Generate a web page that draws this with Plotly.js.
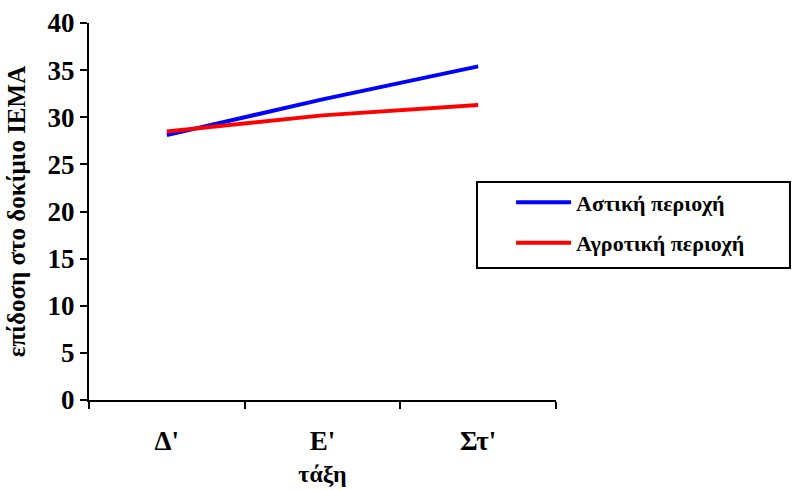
<!DOCTYPE html>
<html>
<head>
<meta charset="utf-8">
<script src="https://cdn.plot.ly/plotly-3.0.1.min.js"></script>
<style>
  html, body { margin: 0; padding: 0; background: #ffffff; }
  #chart { width: 794px; height: 490px; }
</style>
</head>
<body>
<div id="chart"></div>
<script>
// Grades (τάξη) on the x axis
const grades = ["Δ'", "Ε'", "Στ'"];

// Mean score on the ΙΕΜΑ test per area
const urbanName = "Αστική περιοχή";
const urbanScores = [28.1, 31.9, 35.4];

const ruralName = "Αγροτική περιοχή";
const ruralScores = [28.5, 30.2, 31.3];

// Y axis ticks
const yTicks = [0, 5, 10, 15, 20, 25, 30, 35, 40];

const FONT = "Liberation Serif";
const b = s => "<b>" + s + "</b>";
const txt = size => ({ family: FONT, size: size, color: "#000000" });

const traces = [
  {
    x: grades, y: urbanScores, name: b(urbanName), legendgroup: "urban",
    type: "scatter", mode: "lines",
    line: { color: "#0000ff", width: 4 }
  },
  {
    x: grades, y: ruralScores, name: b(ruralName), legendgroup: "rural",
    type: "scatter", mode: "lines",
    line: { color: "#ff0000", width: 4 }
  }
];

const layout = {
  width: 794, height: 490,
  margin: { l: 89, r: 238, t: 23, b: 90 },
  paper_bgcolor: "#ffffff",
  plot_bgcolor: "#ffffff",
  font: txt(24),
  showlegend: true,
  legend: {
    x: 0.831, y: 0.580, xanchor: "left", yanchor: "top",
    bgcolor: "rgba(0,0,0,0)", borderwidth: 0,
    font: txt(22),
    itemwidth: 55,
    indentation: 34,
    tracegroupgap: 9
  },
  // framed white panel behind the legend entries
  shapes: [{
    type: "rect", xref: "paper", yref: "paper", layer: "above",
    x0: 0.8308, x1: 1.501, y0: 0.350, y1: 0.578,
    fillcolor: "#ffffff", line: { color: "#000000", width: 2 }
  }],
  xaxis: {
    type: "category",
    range: [-0.5, 2.5],
    tickson: "boundaries",
    ticks: "outside", ticklen: 7, tickwidth: 2, tickcolor: "#000000",
    showline: true, linecolor: "#000000", linewidth: 2,
    showgrid: false, zeroline: false,
    ticklabelstandoff: 16,
    tickvals: grades,
    ticktext: grades.map(b),
    tickfont: txt(27),
    title: { text: b("τάξη"), standoff: 10, font: txt(24) }
  },
  yaxis: {
    range: [0, 40],
    tickvals: yTicks,
    ticktext: yTicks.map(v => b(String(v))),
    ticks: "outside", ticklen: 7, tickwidth: 2, tickcolor: "#000000",
    showline: true, linecolor: "#000000", linewidth: 2,
    showgrid: false, zeroline: false,
    tickfont: txt(27),
    title: { text: b("επίδοση στο δοκίμιο ΙΕΜΑ"), standoff: 15, font: txt(25) }
  }
};

Plotly.newPlot("chart", traces, layout, { staticPlot: true, displayModeBar: false });
</script>
</body>
</html>
